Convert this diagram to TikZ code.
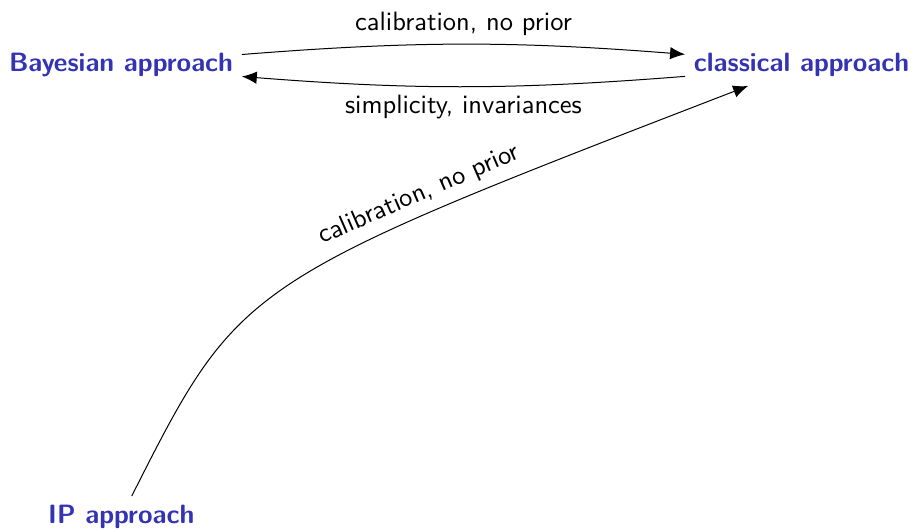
\documentclass[tikz,border=0pt]{standalone}
\usetikzlibrary{arrows.meta}
\renewcommand{\familydefault}{\sfdefault}
\definecolor{structblue}{RGB}{51,51,179}
\begin{document}
\begin{tikzpicture}[x=0.4pt,y=0.4pt,
  font=\fontsize{10.6}{13}\selectfont\sffamily,
  approach/.style={font=\fontsize{10.6}{13}\selectfont\sffamily\bfseries, text=structblue, anchor=base},
  arr/.style={-{Latex[length=6pt,width=5pt]}, line width=0.4pt}]
\useasboundingbox (0,0) rectangle (911,530);
\node[approach] (bayes) at (121,458) {Bayesian approach};
\node[approach] (cl) at (801.5,458) {classical approach};
\node[approach] (ip) at (121.3,6.7) {IP approach};
\coordinate (ctl) at (240,248);
\draw[arr] ([yshift=4.4pt]bayes.east) to[bend left=4.5] node[above] {calibration, no prior} ([yshift=4.4pt]cl.west);
\draw[arr] ([yshift=-4.4pt]cl.west) to[bend left=4.5] node[below] {simplicity, invariances} ([yshift=-4.4pt]bayes.east);
\draw[arr] (ip) .. controls (ctl) .. node[sloped,above,pos=0.72] {calibration, no prior} (cl);
\end{tikzpicture}
\end{document}
